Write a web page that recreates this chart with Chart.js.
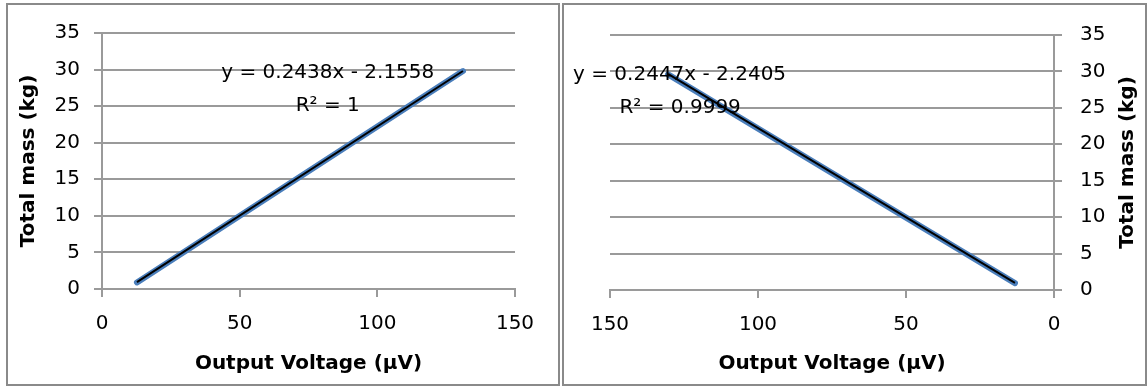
<!DOCTYPE html>
<html>
<head>
<meta charset="utf-8">
<script src="https://cdn.jsdelivr.net/npm/chart.js@4/dist/chart.umd.min.js"></script>
<style>
  body { margin: 0; background: #fff; width: 1148px; height: 387px; position: relative; overflow: hidden; }
  .panel { position: absolute; top: 3px; height: 383px; box-sizing: border-box; border: 2px solid #8a8a8a; background: #fff; }
  #leftPanel { left: 6px; width: 554px; }
  #rightPanel { left: 562px; width: 585px; }
  .panel canvas { display: block; }
</style>
</head>
<body>
<div class="panel" id="leftPanel"><canvas id="leftChart"></canvas></div>
<div class="panel" id="rightPanel"><canvas id="rightChart"></canvas></div>
<script>
// loading run (left) and unloading run (right)
const leftVoltage = [12.7, 131.1];
const leftMass = [0.9, 29.8];
const rightVoltage = [130.4, 13.2];
const rightMass = [29.6, 0.95];

// fitted trendlines: [slope, intercept, R²]
const leftFit = [0.2438, -2.1558, '1'];
const rightFit = [0.2447, -2.2405, '0.9999'];

const massTicks = [0, 5, 10, 15, 20, 25, 30, 35];
const voltageTicks = [0, 50, 100, 150];

const FONT = "'DejaVu Sans', sans-serif";
const GRID = '#9a9a9a';
Chart.defaults.font.family = FONT;
Chart.defaults.font.size = 20;
Chart.defaults.color = '#000';

const toPoints = (xs, ys) => xs.map((x, i) => ({ x, y: ys[i] }));
const fitPoints = (xs, fit) => {
  const lo = Math.min(...xs), hi = Math.max(...xs);
  return [lo, hi].map(x => ({ x, y: fit[0] * x + fit[1] }));
};
const eqText = fit => `y = ${fit[0]}x - ${Math.abs(fit[1])}`;

// trendline equation + R² drawn at value coordinates
const equationLabel = {
  id: 'equationLabel',
  afterDatasetsDraw(chart, args, opts) {
    const { ctx, scales: { x, y } } = chart;
    ctx.save();
    ctx.font = `20px ${FONT}`;
    ctx.fillStyle = '#000';
    ctx.textAlign = 'center';
    ctx.textBaseline = 'middle';
    opts.lines.forEach(l => {
      ctx.fillText(l.text, x.getPixelForValue(l.x), y.getPixelForValue(l.y));
    });
    ctx.restore();
  }
};

// vertical title beside a right-hand axis, reading bottom to top
const sideTitle = {
  id: 'sideTitle',
  afterDraw(chart, args, opts) {
    if (!opts.text) return;
    const { ctx, chartArea } = chart;
    ctx.save();
    ctx.font = `bold 20px ${FONT}`;
    ctx.fillStyle = '#000';
    ctx.textAlign = 'center';
    ctx.textBaseline = 'middle';
    ctx.translate(opts.x, (chartArea.top + chartArea.bottom) / 2);
    ctx.rotate(-Math.PI / 2);
    ctx.fillText(opts.text, 0, 0);
    ctx.restore();
  }
};

function makeChart(id, cfg) {
  const canvas = document.getElementById(id);
  const box = canvas.parentElement;
  canvas.width = box.clientWidth;
  canvas.height = box.clientHeight;

  const datasets = [
    {
      label: 'Trend',
      data: fitPoints(cfg.xs, cfg.fit),
      showLine: true,
      borderColor: '#000',
      borderWidth: 2,
      pointRadius: 0,
      order: 0
    },
    {
      label: 'Total mass',
      data: toPoints(cfg.xs, cfg.ys),
      showLine: true,
      borderColor: '#4a7ebb',
      borderWidth: 6,
      borderCapStyle: 'round',
      pointRadius: 0,
      order: 1
    }
  ];

  return new Chart(canvas, {
    type: 'scatter',
    data: { datasets },
    plugins: [equationLabel, sideTitle],
    options: {
      responsive: false,
      animation: false,
      layout: { padding: cfg.padding },
      plugins: {
        legend: { display: false },
        tooltip: { enabled: false },
        equationLabel: { lines: cfg.labels },
        sideTitle: cfg.sideTitle || {}
      },
      scales: {
        x: {
          type: 'linear',
          min: voltageTicks[0],
          max: voltageTicks[voltageTicks.length - 1],
          reverse: cfg.reverse,
          afterBuildTicks: s => { s.ticks = voltageTicks.map(v => ({ value: v })); },
          afterFit: s => { s.height = cfg.xHeight; },
          grid: { drawOnChartArea: false, drawTicks: true, tickLength: 8, color: GRID, lineWidth: 2 },
          border: { color: GRID, width: 2 },
          ticks: { padding: 15, maxRotation: 0 },
          title: {
            display: true,
            text: 'Output Voltage (µV)',
            font: { weight: 'bold', size: 20 },
            padding: { top: 0, bottom: 8 }
          }
        },
        y: {
          type: 'linear',
          position: cfg.yPos,
          min: massTicks[0],
          max: massTicks[massTicks.length - 1],
          afterBuildTicks: s => { s.ticks = massTicks.map(v => ({ value: v })); },
          afterFit: s => { s.width = cfg.yWidth; },
          grid: { color: GRID, lineWidth: 2, tickLength: 8 },
          border: { color: GRID, width: 2 },
          ticks: { padding: cfg.yTickPad },
          title: {
            display: cfg.yPos === 'left',
            text: 'Total mass (kg)',
            font: { weight: 'bold', size: 20 },
            padding: { top: 9, bottom: 0 }
          }
        }
      }
    }
  });
}

makeChart('leftChart', {
  xs: leftVoltage, ys: leftMass, fit: leftFit,
  reverse: false, yPos: 'left',
  padding: { top: 28, right: 43, bottom: 0, left: 0 },
  yWidth: 94, xHeight: 95, yTickPad: 14,
  labels: [
    { text: eqText(leftFit), x: 82, y: 29.6 },
    { text: `R² = ${leftFit[2]}`, x: 82, y: 25 }
  ]
});

makeChart('rightChart', {
  xs: rightVoltage, ys: rightMass, fit: rightFit,
  reverse: true, yPos: 'right',
  padding: { top: 28, right: 0, bottom: 0, left: 46 },
  yWidth: 91, xHeight: 94, yTickPad: 18,
  labels: [
    { text: eqText(rightFit), x: 126.5, y: 29.6 },
    { text: `R² = ${rightFit[2]}`, x: 126.3, y: 25 }
  ],
  sideTitle: { text: 'Total mass (kg)', x: 564 }
});
</script>
</body>
</html>
